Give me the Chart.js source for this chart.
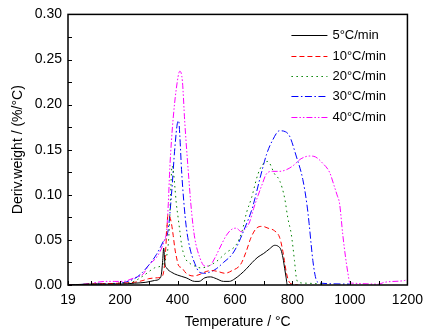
<!DOCTYPE html>
<html>
<head>
<meta charset="utf-8">
<script src="https://cdn.jsdelivr.net/npm/chart.js@4.4.1/dist/chart.umd.min.js"></script>
<style>
  html, body { margin: 0; padding: 0; background: #fff; }
  #wrap { position: relative; width: 430px; height: 334px; }
</style>
</head>
<body>
<div id="wrap"><canvas id="dtgChart"></canvas></div>
<script>
// --- datos DTG (temperatura en °C, derivada en %/°C) ---
const temp5 = [19, 100, 200, 250, 290, 320, 338, 344, 348, 352, 356, 362, 380, 400, 430, 460, 475, 495, 515, 535, 560, 580, 600, 620, 640, 660, 680, 700, 720, 738, 750, 760, 767, 773, 778, 782, 800];
const dtg5  = [0, 0.001, 0.001, 0.002, 0.003, 0.005, 0.007, 0.012, 0.025, 0.041, 0.024, 0.019, 0.014, 0.011, 0.008, 0.004, 0.004, 0.008, 0.009, 0.007, 0.004, 0.004, 0.007, 0.012, 0.018, 0.025, 0.031, 0.035, 0.040, 0.044, 0.043, 0.039, 0.030, 0.018, 0.008, 0.000, 0.000];

const temp10 = [19, 100, 200, 250, 280, 300, 330, 345, 352, 357, 362, 367, 373, 379, 385, 391, 397, 403, 415, 430, 455, 480, 500, 520, 540, 565, 590, 620, 640, 655, 675, 695, 715, 738, 755, 765, 772, 778, 785, 792, 820];
const dtg10  = [0, 0.001, 0.002, 0.003, 0.005, 0.007, 0.008, 0.009, 0.015, 0.030, 0.056, 0.078, 0.076, 0.068, 0.055, 0.040, 0.030, 0.022, 0.019, 0.013, 0.010, 0.012, 0.015, 0.016, 0.015, 0.013, 0.016, 0.023, 0.038, 0.052, 0.063, 0.065, 0.063, 0.060, 0.053, 0.040, 0.027, 0.015, 0.006, 0.002, 0.000];

const temp20 = [19, 100, 200, 240, 280, 320, 350, 360, 367, 373, 377, 381, 386, 391, 396, 402, 408, 414, 425, 443, 460, 480, 500, 535, 570, 605, 625, 640, 657, 680, 697, 714, 738, 755, 773, 784, 796, 807, 813, 820, 850, 900];
const dtg20  = [0, 0.001, 0.002, 0.003, 0.010, 0.019, 0.023, 0.030, 0.042, 0.074, 0.110, 0.132, 0.125, 0.108, 0.090, 0.075, 0.060, 0.045, 0.031, 0.024, 0.021, 0.019, 0.020, 0.026, 0.036, 0.045, 0.060, 0.080, 0.096, 0.123, 0.134, 0.137, 0.123, 0.116, 0.096, 0.074, 0.056, 0.027, 0.009, 0.003, 0.002, 0.001];

const temp30 = [19, 100, 200, 250, 275, 300, 327, 350, 367, 379, 391, 400, 404, 408, 414, 422, 431, 443, 460, 477, 495, 510, 535, 560, 590, 610, 630, 660, 690, 710, 730, 755, 775, 790, 813, 836, 850, 858, 865, 871, 878, 885, 900, 1000];
const dtg30  = [0, 0.001, 0.002, 0.007, 0.013, 0.022, 0.034, 0.048, 0.060, 0.100, 0.153, 0.180, 0.182, 0.166, 0.128, 0.092, 0.063, 0.041, 0.024, 0.014, 0.013, 0.014, 0.018, 0.025, 0.034, 0.045, 0.060, 0.085, 0.122, 0.145, 0.160, 0.171, 0.170, 0.165, 0.143, 0.117, 0.090, 0.068, 0.045, 0.027, 0.012, 0.004, 0.002, 0.001];

const temp40 = [19, 80, 120, 150, 180, 210, 250, 280, 300, 330, 355, 362, 368, 373, 379, 385, 396, 408, 417, 425, 437, 449, 460, 477, 495, 510, 530, 547, 570, 590, 605, 622, 640, 651, 665, 680, 695, 709, 730, 755, 780, 801, 830, 860, 880, 905, 929, 945, 955, 964, 975, 985, 993, 999, 1010, 1100, 1120, 1190, 1200];
const dtg40  = [0, 0.001, 0.003, 0.004, 0.004, 0.004, 0.008, 0.012, 0.022, 0.032, 0.050, 0.060, 0.090, 0.128, 0.160, 0.185, 0.218, 0.237, 0.226, 0.182, 0.128, 0.081, 0.052, 0.031, 0.021, 0.021, 0.030, 0.041, 0.055, 0.062, 0.063, 0.059, 0.064, 0.070, 0.085, 0.099, 0.112, 0.123, 0.126, 0.126, 0.128, 0.132, 0.140, 0.143, 0.142, 0.135, 0.125, 0.110, 0.100, 0.090, 0.056, 0.030, 0.013, 0.003, 0.002, 0.001, 0.003, 0.005, 0.006];

const nombresSerie = ['5°C/min', '10°C/min', '20°C/min', '30°C/min', '40°C/min'];
const xTickValues = [19, 100, 200, 300, 400, 500, 600, 700, 800, 900, 1000, 1100, 1200];
const xTickLabels = [19, 200, 400, 600, 800, 1000, 1200];

const colores = ['#000000', '#ff0000', '#008000', '#0000ff', '#ff00ff'];
const guiones = [[], [5, 3], [1.5, 3.5], [7, 2.5, 1.5, 2.5], [6, 2, 1.5, 2, 1.5, 2]];

const juntar = (xs, ys) => xs.map((x, i) => ({ x: x, y: ys[i] }));
const series = [
    juntar(temp5, dtg5),
    juntar(temp10, dtg10),
    juntar(temp20, dtg20),
    juntar(temp30, dtg30),
    juntar(temp40, dtg40)
];

Chart.defaults.font.family = "'Liberation Sans', Arial, sans-serif";
Chart.defaults.color = '#000';

// marco del grafico + marcas de los ejes hacia dentro
const marcoPlugin = {
    id: 'marco',
    afterDatasetsDraw(chart) {
        const { ctx, chartArea: a, scales } = chart;
        ctx.save();
        ctx.strokeStyle = '#000';
        ctx.lineWidth = 1;
        ctx.beginPath();
        scales.x.ticks.forEach(t => {
            const px = Math.round(scales.x.getPixelForValue(t.value)) + 0.5;
            ctx.moveTo(px, a.bottom);
            ctx.lineTo(px, a.bottom - 4);
        });
        scales.y.ticks.forEach(t => {
            const py = Math.round(scales.y.getPixelForValue(t.value)) + 0.5;
            ctx.moveTo(a.left, py);
            ctx.lineTo(a.left + 4, py);
        });
        ctx.stroke();
        ctx.lineWidth = 1.5;
        ctx.strokeRect(a.left, a.top, a.right - a.left, a.bottom - a.top);
        ctx.restore();
    }
};

// leyenda dentro del area, arriba a la derecha
const leyendaPlugin = {
    id: 'leyendaDentro',
    afterDatasetsDraw(chart) {
        const { ctx, chartArea: a } = chart;
        ctx.save();
        ctx.font = "13px 'Liberation Sans', Arial, sans-serif";
        ctx.textBaseline = 'middle';
        ctx.textAlign = 'left';
        chart.data.datasets.forEach((ds, i) => {
            const y = Math.round(a.top + 21 + i * 20.3) + 0.5;
            ctx.strokeStyle = ds.borderColor;
            ctx.lineWidth = 1;
            ctx.setLineDash(ds.borderDash);
            ctx.beginPath();
            ctx.moveTo(a.right - 116, y);
            ctx.lineTo(a.right - 80, y);
            ctx.stroke();
            ctx.setLineDash([]);
            ctx.fillStyle = '#000';
            ctx.fillText(ds.label, a.right - 75, y);
        });
        ctx.restore();
    }
};

const ctxDtg = document.getElementById('dtgChart').getContext('2d');
const dtgChart = new Chart(ctxDtg, {
    type: 'line',
    data: {
        datasets: series.map((d, i) => ({
            label: nombresSerie[i],
            data: d,
            borderColor: colores[i],
            borderWidth: 1,
            borderDash: guiones[i],
            pointRadius: 0,
            fill: false,
            cubicInterpolationMode: 'monotone'
        }))
    },
    options: {
        responsive: true,
        maintainAspectRatio: false,
        animation: false,
        devicePixelRatio: 1,
        layout: { padding: { left: 0, right: 22, top: 8, bottom: 0 } },
        scales: {
            x: {
                type: 'linear',
                min: 19,
                max: 1200,
                afterBuildTicks: (scale) => {
                    scale.ticks = xTickValues.map(v => ({ value: v }));
                },
                afterFit: (scale) => { scale.height = 49; },
                grid: { display: false, drawTicks: false },
                border: { display: false },
                ticks: {
                    autoSkip: false,
                    maxRotation: 0,
                    padding: 7,
                    font: { size: 14 },
                    callback: (value) => xTickLabels.includes(value) ? String(value) : ''
                },
                title: {
                    display: true,
                    text: 'Temperature / °C',
                    font: { size: 14 },
                    padding: { top: 0, bottom: 3 }
                }
            },
            y: {
                min: 0,
                max: 0.30,
                afterFit: (scale) => { scale.width = 68; },
                grid: { display: false, drawTicks: false },
                border: { display: false },
                ticks: {
                    stepSize: 0.025,
                    autoSkip: false,
                    padding: 6,
                    font: { size: 14 },
                    callback: (value) => {
                        const k = Math.round(value * 1000);
                        return k % 50 === 0 ? (k / 1000).toFixed(2) : '';
                    }
                },
                title: {
                    display: true,
                    text: 'Deriv.weight / (%/°C)',
                    font: { size: 14 },
                    padding: { top: 10, bottom: 0 }
                }
            }
        },
        plugins: {
            legend: { display: false },
            tooltip: { enabled: false }
        }
    },
    plugins: [marcoPlugin, leyendaPlugin]
});
</script>
</body>
</html>
